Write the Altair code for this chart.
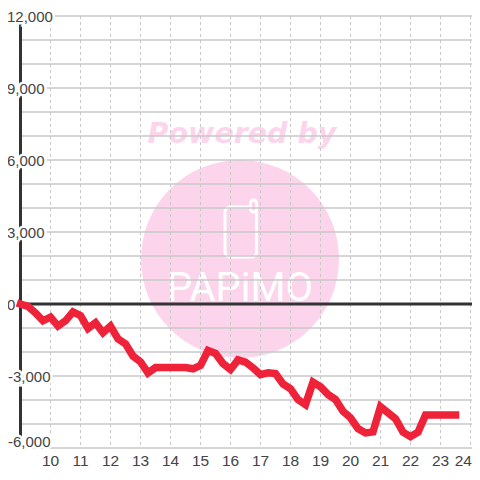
import altair as alt
import pandas as pd

hours = [9 + 0.25 * i for i in range(59)]
values = [0, -100, -370, -700, -550, -920, -700, -330, -480, -1020, -780, -1200,
          -920, -1450, -1660, -2170, -2410, -2870, -2650, -2650, -2650, -2650,
          -2650, -2700, -2560, -1940, -2060, -2480, -2730, -2330, -2420, -2660,
          -2940, -2870, -2900, -3330, -3530, -3980, -4190, -3260, -3450, -3770,
          -3980, -4470, -4740, -5190, -5370, -5330, -4280, -4530, -4780, -5340,
          -5530, -5340, -4630, -4630, -4630, -4630, -4630]
x_ticks = list(range(10, 25))
y_grid = list(range(-6000, 13000, 1000))
y_labels = [12000, 9000, 6000, 3000, 0, -3000, -6000]
y_text = ["12,000", "9,000", "6,000", "3,000", "0", "-3,000", "-6,000"]

PINK = "#fcd5ec"
GRID = "#c8c8c8"
DARK = "#333333"
RED = "#ee2238"
TEXT = "#444444"
FONT = "Liberation Sans"

xs = alt.Scale(domain=[9, 24.05], nice=False, zero=False)
ys = alt.Scale(domain=[-6000, 12000], nice=False, zero=False)
X = lambda f="x": alt.X(f"{f}:Q", scale=xs, axis=None)
Y = lambda f="y": alt.Y(f"{f}:Q", scale=ys, axis=None)

line_df = pd.DataFrame({"x": hours, "y": values})
vgrid_df = pd.DataFrame({"x": x_ticks})
hgrid_df = pd.DataFrame({"y": y_grid})
lab_df = pd.DataFrame({"y": y_labels, "t": y_text, "x": [9] * len(y_labels)})
tick_df = pd.DataFrame({"x": x_ticks, "y": [-6000] * len(x_ticks), "t": [str(v) for v in x_ticks]})
one = pd.DataFrame({"a": [0]})
base = alt.Chart(one)

circle = base.mark_point(filled=True, color=PINK, opacity=1, size=39204).encode(
    x=alt.value(219.5), y=alt.value(243))
powered = base.mark_text(text="Powered by", font="DejaVu Sans", fontWeight="bold", fontStyle="italic",
                         fontSize=28.5, color=PINK, align="center", baseline="middle").encode(
    x=alt.value(221.5), y=alt.value(118))
phone = base.mark_rect(fill=PINK, stroke="white", strokeWidth=3, cornerRadius=5).encode(
    x=alt.value(204.5), x2=alt.value(236), y=alt.value(191), y2=alt.value(241))
antenna = base.mark_rect(fill=PINK, stroke="white", strokeWidth=3, cornerRadius=3).encode(
    x=alt.value(230), x2=alt.value(236), y=alt.value(184), y2=alt.value(196))
papimo = base.mark_text(text="PAPiMO", font="Roboto", fontSize=40, color="white",
                        align="center", baseline="middle").encode(
    x=alt.value(219.5), y=alt.value(273))

vgrid = alt.Chart(vgrid_df).mark_rule(color=GRID, strokeWidth=1, strokeDash=[3, 3]).encode(
    x=X(), y=alt.value(0), y2=alt.value(432))
hgrid = alt.Chart(hgrid_df).mark_rule(color=GRID, strokeWidth=1.5).encode(
    y=Y(), x=alt.value(0), x2=alt.value(451.5))
zero = alt.Chart(pd.DataFrame({"y": [0]})).mark_rule(color=DARK, strokeWidth=3).encode(
    y=Y(), x=alt.value(0), x2=alt.value(451.5))
vaxis = alt.Chart(pd.DataFrame({"x": [9]})).mark_rule(color=DARK, strokeWidth=3).encode(
    x=X(), y=alt.value(0), y2=alt.value(432))
line = alt.Chart(line_df).mark_line(color=RED, strokeWidth=7.5, strokeCap="square", strokeJoin="miter").encode(
    x=X(), y=Y())


def label_layers(df, dx, dy):
    common = dict(font=FONT, fontSize=15, align="left", baseline="middle", dx=dx, dy=dy)
    halo = alt.Chart(df).mark_text(color="white", stroke="white", strokeWidth=5, **common).encode(
        x=X(), y=Y(), text="t:N")
    text = alt.Chart(df).mark_text(color=TEXT, **common).encode(x=X(), y=Y(), text="t:N")
    return [halo, text]


pos = lab_df[lab_df.y >= 0]
neg = lab_df[lab_df.y == -3000]
low = lab_df[lab_df.y == -6000]
labels = label_layers(pos, -13.5, 1) + label_layers(neg, -12.5, 1) + label_layers(low, -12.5, -6)

ticks = alt.Chart(tick_df[tick_df.x < 24]).mark_text(font=FONT, fontSize=15.5, color=TEXT, align="center", baseline="middle", dy=13).encode(
    x=X(), y=Y(), text="t:N")
last_tick = alt.Chart(tick_df[tick_df.x == 24]).mark_text(font=FONT, fontSize=15.5, color=TEXT, align="right", baseline="middle", dy=13, dx=1.5).encode(
    x=X(), y=Y(), text="t:N")

chart = alt.layer(circle, powered, phone, antenna, papimo, vgrid, hgrid, vaxis, zero, *labels, ticks, last_tick, line).properties(
    width=451.5, height=432,
    autosize=alt.AutoSizeParams(type="none"),
    padding={"left": 12.5, "top": 8, "right": 0, "bottom": 20},
).configure_view(stroke=None)

chart.save("out.html", embed_options={"renderer": "svg", "actions": False})
